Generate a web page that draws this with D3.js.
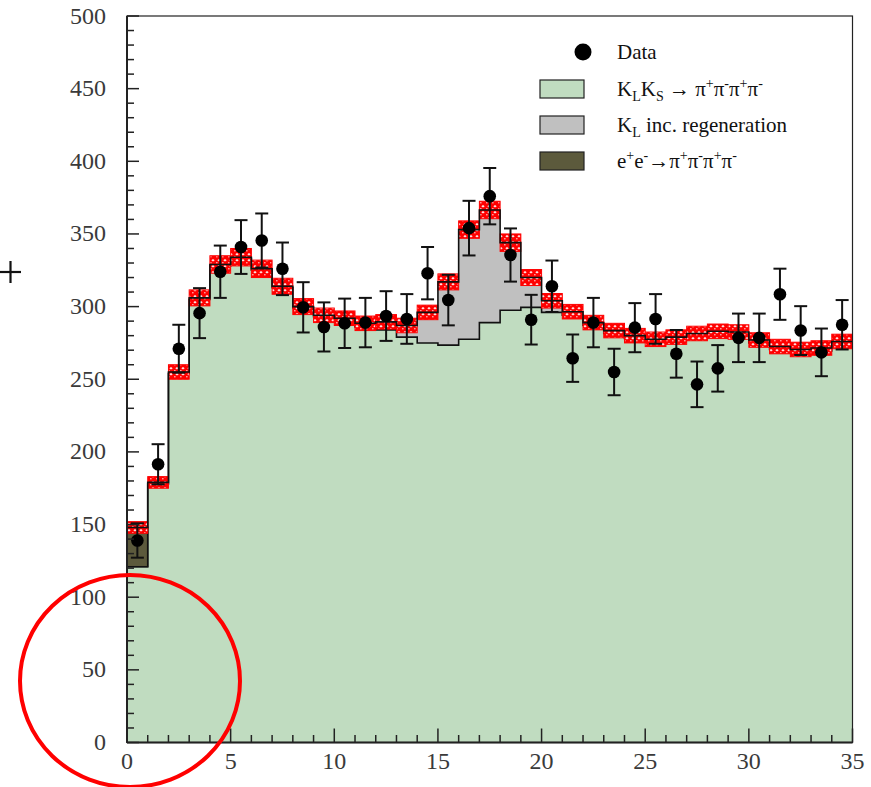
<!DOCTYPE html>
<html>
<head>
<meta charset="utf-8">
<script src="https://cdn.jsdelivr.net/npm/d3@7"></script>
<style>
  html, body { margin: 0; padding: 0; background: #fff; }
  svg { display: block; }
</style>
</head>
<body>
<svg id="chart" width="871" height="787"></svg>
<script>
// Bin edges run 0..35 in unit steps; one entry per bin below.
const binStart = 0;
const binCount = 35;

// K_L K_S -> pi+ pi- pi+ pi- (bottom of the stack)
const klks = [121, 178, 254, 305, 328, 333, 325, 313, 299, 293, 290, 286, 284, 279, 275,
              273.5, 277.5, 289, 297.5, 299.5, 296, 294, 287, 281.5, 278, 275.5, 277, 279.5,
              281, 280.5, 275, 270.5, 268.5, 269.5, 274];
// K_L including regeneration (middle of the stack)
const regen = [0, 1, 1, 1, 1, 1, 1, 1, 1, 1, 2, 2.5, 5.5, 8, 21,
               43.5, 75.5, 77.5, 46.5, 20.5, 8, 2.5, 2, 2, 2, 2, 2, 2,
               2, 2, 2, 2, 2, 2, 2];
// e+e- -> pi+ pi- pi+ pi- (top of the stack)
const eeBkg = [27, 0, 0, 0, 0, 0, 0, 0, 0, 0, 0, 0, 0, 0, 0,
               0, 0, 0, 0, 0, 0, 0, 0, 0, 0, 0, 0, 0,
               0, 0, 0, 0, 0, 0, 0];
// Uncertainty on the summed simulation (half height of the hatched band)
const mcErr = [4, 4, 5, 5.5, 6, 6, 6, 5.5, 5.5, 5, 5, 5, 5, 5, 5,
               5.5, 6, 6, 6, 5.5, 5, 5, 5, 5, 5, 5, 5, 5,
               5, 5, 5, 5, 5, 5, 5];
// Observed counts and their errors
const dataVal = [139, 191.5, 271, 295.5, 324, 341, 345.5, 326, 299.5, 286, 288.5, 289, 293.5,
                 291.5, 323, 304.5, 354, 376, 335.5, 291, 314, 264.5, 289, 255, 285.5, 291.5,
                 267.5, 246.5, 257.5, 278.5, 278.5, 308.5, 283.5, 268.5, 287.5];
const dataErr = [11.8, 13.8, 16.5, 17.2, 18, 18.5, 18.6, 18.1, 17.3, 16.9, 17, 17, 17.1,
                 17.1, 18, 17.4, 18.8, 19.4, 18.3, 17.1, 17.7, 16.3, 17, 16, 16.9, 17.1,
                 16.4, 15.7, 16, 16.7, 16.7, 17.6, 16.8, 16.4, 17];

const xTicks = [0, 5, 10, 15, 20, 25, 30, 35];
const yTicks = [0, 50, 100, 150, 200, 250, 300, 350, 400, 450, 500];

// legend rows: text pieces as [text, shift] where shift is 0 (normal), 1 (super), -1 (sub)
const legendItems = [
  { kind: "data", parts: [["Data", 0]] },
  { kind: "box", color: "#c0dcc0",
    parts: [["K", 0], ["L", -1], ["K", 0], ["S", -1], [" \u2192 \u03c0", 0], ["+", 1], ["\u03c0", 0], ["-", 1],
            ["\u03c0", 0], ["+", 1], ["\u03c0", 0], ["-", 1]] },
  { kind: "box", color: "#c0c0c0",
    parts: [["K", 0], ["L", -1], [" inc. regeneration", 0]] },
  { kind: "box", color: "#5c5a3c",
    parts: [["e", 0], ["+", 1], ["e", 0], ["-", 1], ["\u2192\u03c0", 0], ["+", 1], ["\u03c0", 0], ["-", 1],
            ["\u03c0", 0], ["+", 1], ["\u03c0", 0], ["-", 1]] }
];

const svg = d3.select("#chart");
const x = d3.scaleLinear().domain([0, 35]).range([127, 852.5]);
const y = d3.scaleLinear().domain([0, 500]).range([742.5, 16]);

const bins = d3.range(binCount).map(i => ({
  lo: binStart + i, hi: binStart + i + 1,
  klks: klks[i], regen: regen[i], ee: eeBkg[i],
  err: mcErr[i], data: dataVal[i], dErr: dataErr[i]
}));
bins.forEach(b => {
  b.s1 = b.klks;
  b.s2 = b.klks + b.regen;
  b.total = b.klks + b.regen + b.ee;
});

// hatch pattern for the simulation uncertainty band
const defs = svg.append("defs");
const pat = defs.append("pattern")
  .attr("id", "hatch").attr("patternUnits", "userSpaceOnUse")
  .attr("width", 6).attr("height", 6);
pat.append("rect").attr("width", 6).attr("height", 6).attr("fill", "#ff0000");
pat.append("path").attr("d", "M1.3,2.2 L3,0.9 L4.7,2.2 L3,3.5 Z").attr("fill", "#ffffff").attr("opacity", 0.9);
pat.append("rect").attr("x", 0).attr("y", 4.3).attr("width", 1.6).attr("height", 1).attr("fill", "#ffd8d8");

// stacked fills (step areas)
const area = d3.area()
  .x(p => x(p[0])).y0(p => y(p[2])).y1(p => y(p[1]))
  .curve(d3.curveStepAfter);
function stepArea(accTop, accBot) {
  const pts = bins.map(b => [b.lo, accTop(b), accBot(b)]);
  const last = bins[bins.length - 1];
  pts.push([last.hi, accTop(last), accBot(last)]);
  return area(pts);
}

const g = svg.append("g");
g.append("path").attr("d", stepArea(b => b.s2, b => b.s1)).attr("fill", "#c0c0c0");
g.append("path").attr("d", stepArea(b => b.s1, b => 0)).attr("fill", "#c0dcc0");
g.append("path").attr("d", stepArea(b => b.total, b => b.s2)).attr("fill", "#5c5a3c");

// black outlines of the stack components
const stepLine = d3.line().x(p => x(p[0])).y(p => y(p[1])).curve(d3.curveStepAfter);
function stepPath(acc) {
  const pts = [[bins[0].lo, 0]];
  bins.forEach(b => pts.push([b.lo, acc(b)]));
  const last = bins[bins.length - 1];
  pts.push([last.hi, acc(last)]);
  return stepLine(pts);
}
g.append("path").attr("d", stepPath(b => b.s1))
  .attr("fill", "none").attr("stroke", "#111").attr("stroke-width", 1.6);
g.selectAll("rect.ee").data(bins.filter(b => b.ee > 0)).join("rect")
  .attr("x", b => x(b.lo)).attr("width", b => x(b.hi) - x(b.lo))
  .attr("y", b => y(b.total)).attr("height", b => y(b.s2) - y(b.total))
  .attr("fill", "none").attr("stroke", "#111").attr("stroke-width", 1.4);

// simulation uncertainty band
g.selectAll("rect.band").data(bins).join("rect")
  .attr("class", "band")
  .attr("x", b => x(b.lo)).attr("width", b => x(b.hi) - x(b.lo))
  .attr("y", b => y(b.total + b.err)).attr("height", b => y(b.total - b.err) - y(b.total + b.err))
  .attr("fill", "url(#hatch)").attr("stroke", "#ff0000").attr("stroke-width", 1);

// total simulation line
g.append("path").attr("d", stepPath(b => b.total))
  .attr("fill", "none").attr("stroke", "#111").attr("stroke-width", 1.6);

// frame
svg.append("rect")
  .attr("x", x(0)).attr("y", y(500)).attr("width", x(35) - x(0)).attr("height", y(0) - y(500))
  .attr("fill", "none").attr("stroke", "#222").attr("stroke-width", 1.2);

// data points with error bars
const dg = svg.append("g");
const pts = dg.selectAll("g.pt").data(bins).join("g").attr("class", "pt");
const cx = b => x((b.lo + b.hi) / 2);
pts.append("line")
  .attr("x1", cx).attr("x2", cx)
  .attr("y1", b => y(b.data + b.dErr)).attr("y2", b => y(b.data - b.dErr))
  .attr("stroke", "#111").attr("stroke-width", 2);
pts.append("line")
  .attr("x1", b => cx(b) - 6.5).attr("x2", b => cx(b) + 6.5)
  .attr("y1", b => y(b.data + b.dErr)).attr("y2", b => y(b.data + b.dErr))
  .attr("stroke", "#111").attr("stroke-width", 2);
pts.append("line")
  .attr("x1", b => cx(b) - 6.5).attr("x2", b => cx(b) + 6.5)
  .attr("y1", b => y(b.data - b.dErr)).attr("y2", b => y(b.data - b.dErr))
  .attr("stroke", "#111").attr("stroke-width", 2);
pts.append("circle")
  .attr("cx", cx).attr("cy", b => y(b.data)).attr("r", 6.3).attr("fill", "#000");

// axes: inward ticks, major every 5 / 50, minor every 1 / 10
const ax = svg.append("g");
const yMinor = d3.range(0, 501, 10);
ax.selectAll("line.ym").data(yMinor).join("line")
  .attr("x1", x(0)).attr("x2", v => x(0) + (v % 50 === 0 ? 12 : 7))
  .attr("y1", v => y(v)).attr("y2", v => y(v))
  .attr("stroke", "#222").attr("stroke-width", 1.5);
const xMinor = d3.range(0, 36, 1);
ax.selectAll("line.xm").data(xMinor).join("line")
  .attr("x1", v => x(v)).attr("x2", v => x(v))
  .attr("y1", y(0)).attr("y2", v => y(0) - (v % 5 === 0 ? 14 : 7.5))
  .attr("stroke", "#222").attr("stroke-width", 1.5);
ax.append("line").attr("x1", x(0)).attr("x2", x(0)).attr("y1", y(0)).attr("y2", y(500))
  .attr("stroke", "#222").attr("stroke-width", 2);
ax.append("line").attr("x1", x(0)).attr("x2", x(35)).attr("y1", y(0)).attr("y2", y(0))
  .attr("stroke", "#222").attr("stroke-width", 2);

ax.selectAll("text.yl").data(yTicks).join("text")
  .attr("x", 106).attr("y", v => y(v) + 7.5)
  .attr("text-anchor", "end")
  .attr("font-family", "Liberation Serif, serif").attr("font-size", 24)
  .attr("fill", "#3a3a3a").text(v => v);
ax.selectAll("text.xl").data(xTicks).join("text")
  .attr("x", v => x(v)).attr("y", 769)
  .attr("text-anchor", "middle")
  .attr("font-family", "Liberation Serif, serif").attr("font-size", 24)
  .attr("fill", "#3a3a3a").text(v => v);

// legend
const lg = svg.append("g").attr("font-family", "Liberation Serif, serif").attr("font-size", 21).attr("fill", "#111");
const rowY = [52, 89, 125, 161];
const shiftPx = { "0": 0, "1": -8, "-1": 5 };
legendItems.forEach((it, i) => {
  if (it.kind === "data") {
    lg.append("circle").attr("cx", 583).attr("cy", rowY[i]).attr("r", 8.5).attr("fill", "#000");
  } else {
    lg.append("rect").attr("x", 540).attr("y", rowY[i] - 9).attr("width", 44).attr("height", 18)
      .attr("fill", it.color).attr("stroke", "#222").attr("stroke-width", 1.2);
  }
  const t = lg.append("text").attr("x", 617).attr("y", rowY[i] + 7);
  let prev = 0;
  it.parts.forEach(([s, k]) => {
    const off = shiftPx[String(k)];
    t.append("tspan")
      .attr("dy", off - prev)
      .attr("font-size", k === 0 ? 21 : 14)
      .text(s);
    prev = off;
  });
});

// hand-drawn marks: plus sign and circle around the origin
const ann = svg.append("g");
ann.append("line").attr("x1", 0).attr("x2", 21).attr("y1", 272).attr("y2", 272).attr("stroke", "#111").attr("stroke-width", 2.2);
ann.append("line").attr("x1", 10.5).attr("x2", 10.5).attr("y1", 261).attr("y2", 283).attr("stroke", "#111").attr("stroke-width", 2.2);
ann.append("ellipse").attr("cx", 130).attr("cy", 681).attr("rx", 110).attr("ry", 106)
  .attr("fill", "none").attr("stroke", "#ff0000").attr("stroke-width", 4);
</script>
</body>
</html>
